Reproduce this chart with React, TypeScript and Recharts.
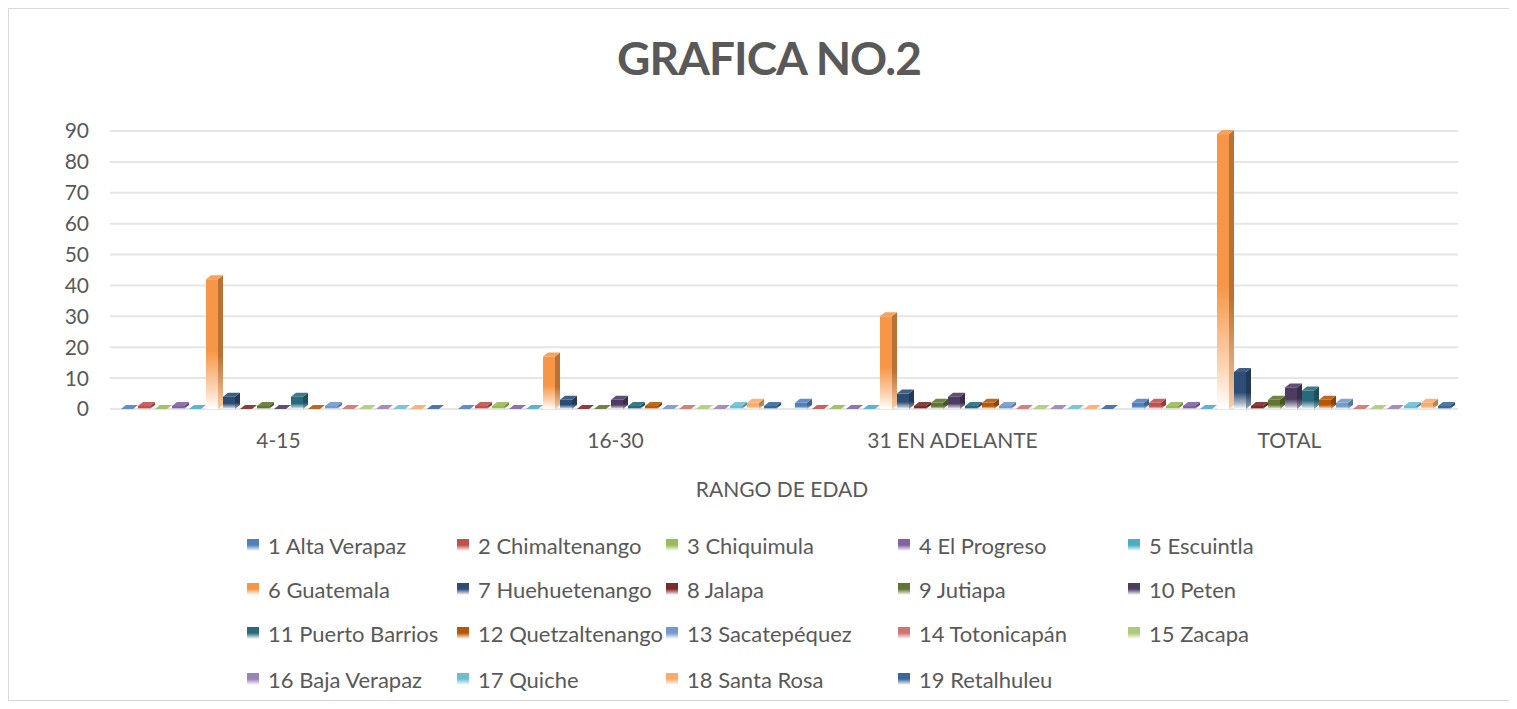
import { BarChart, Bar, XAxis, YAxis, CartesianGrid } from "recharts";

// Age ranges on the x axis
const categories = ["4-15", "16-30", "31 EN ADELANTE", "TOTAL"];
const yTicks = [0, 10, 20, 30, 40, 50, 60, 70, 80, 90];

// One array per departamento, same order as categories
const altaVerapaz = [0, 0, 2, 2];
const chimaltenango = [1, 1, 0, 2];
const chiquimula = [0, 1, 0, 1];
const elProgreso = [1, 0, 0, 1];
const escuintla = [0, 0, 0, 0];
const guatemala = [42, 17, 30, 89];
const huehuetenango = [4, 3, 5, 12];
const jalapa = [0, 0, 1, 1];
const jutiapa = [1, 0, 2, 3];
const peten = [0, 3, 4, 7];
const puertoBarrios = [4, 1, 1, 6];
const quetzaltenango = [0, 1, 2, 3];
const sacatepequez = [1, 0, 1, 2];
const totonicapan = [0, 0, 0, 0];
const zacapa = [0, 0, 0, 0];
const bajaVerapaz = [0, 0, 0, 0];
const quiche = [0, 1, 0, 1];
const santaRosa = [0, 2, 0, 2];
const retalhuleu = [0, 1, 0, 1];

const seriesNames = [
  "1 Alta Verapaz", "2 Chimaltenango", "3 Chiquimula", "4 El Progreso", "5 Escuintla",
  "6 Guatemala", "7 Huehuetenango", "8 Jalapa", "9 Jutiapa", "10 Peten",
  "11 Puerto Barrios", "12 Quetzaltenango", "13 Sacatepéquez", "14 Totonicapán", "15 Zacapa",
  "16 Baja Verapaz", "17 Quiche", "18 Santa Rosa", "19 Retalhuleu",
];
const seriesValues = [
  altaVerapaz, chimaltenango, chiquimula, elProgreso, escuintla,
  guatemala, huehuetenango, jalapa, jutiapa, peten,
  puertoBarrios, quetzaltenango, sacatepequez, totonicapan, zacapa,
  bajaVerapaz, quiche, santaRosa, retalhuleu,
];
const colors = [
  "#4F81BD", "#C0504D", "#9BBB59", "#8064A2", "#4BACC6",
  "#F79646", "#2C4D75", "#772C2A", "#5F7530", "#4D3B62",
  "#276A7C", "#B65708", "#729ACA", "#CD7371", "#AFC97A",
  "#9983B5", "#6FBDD1", "#F9AB6B", "#3A679C",
];

const data = categories.map((cat, i) => {
  const row: Record<string, string | number> = { cat };
  seriesValues.forEach((vals, k) => {
    row["s" + k] = vals[i];
  });
  return row;
});

const FONT = "Lato, 'Liberation Sans', sans-serif";
const TEXT = "#595959";

function shade(hex: string, f: number): string {
  const n = parseInt(hex.slice(1), 16);
  const ch = [(n >> 16) & 255, (n >> 8) & 255, n & 255].map((c) =>
    Math.round(f < 0 ? c * (1 + f) : c + (255 - c) * f)
  );
  return `rgb(${ch[0]},${ch[1]},${ch[2]})`;
}

const DEPTH = 5;
const RISE = 4;

function Bar3D(props: any) {
  const { x, y, width, height, k } = props;
  if (x == null || y == null) return null;
  const w = width - DEPTH;
  const h = Math.max(0, height);
  const c = colors[k];
  return (
    <g>
      {h > 0 && <rect x={x} y={y} width={w} height={h} fill={`url(#front${k})`} />}
      {h > 0 && (
        <polygon
          points={`${x + w},${y} ${x + w + DEPTH},${y - RISE} ${x + w + DEPTH},${y + h - RISE} ${x + w},${y + h}`}
          fill={`url(#side${k})`}
        />
      )}
      <polygon
        points={`${x},${y} ${x + DEPTH},${y - RISE} ${x + w + DEPTH},${y - RISE} ${x + w},${y}`}
        fill={shade(c, 0.1)}
      />
    </g>
  );
}

const legendCols = [238, 448, 657, 889, 1119];
const legendRows = [536, 580, 624, 670];

export default function App() {
  return (
    <div
      style={{
        position: "relative",
        width: 1509,
        height: 693,
        border: "1px solid #d9d9d9",
        boxSizing: "border-box",
        background: "#fff",
        fontFamily: FONT,
      }}
    >
      <div
        style={{
          position: "absolute",
          top: 21,
          left: 0,
          width: 1520,
          textAlign: "center",
          fontSize: 46,
          fontWeight: 700,
          letterSpacing: -1,
          color: TEXT,
        }}
      >
        GRAFICA NO.2
      </div>

      <BarChart
        width={1507}
        height={691}
        data={data}
        margin={{ top: 122, right: 58, bottom: 0, left: 0 }}
        barCategoryGap={11}
        barGap={0}
      >
        <defs>
          {colors.map((c, k) => (
            <linearGradient key={"f" + k} id={`front${k}`} x1="0" y1="0" x2="0" y2="1">
              <stop offset="0" stopColor={c} />
              <stop offset="0.55" stopColor={c} />
              <stop offset="0.85" stopColor={shade(c, 0.6)} />
              <stop offset="1" stopColor="#ffffff" />
            </linearGradient>
          ))}
          {colors.map((c, k) => (
            <linearGradient key={"s" + k} id={`side${k}`} x1="0" y1="0" x2="0" y2="1">
              <stop offset="0" stopColor={shade(c, -0.25)} />
              <stop offset="0.6" stopColor={shade(c, -0.25)} />
              <stop offset="1" stopColor={shade(c, 0.5)} />
            </linearGradient>
          ))}
        </defs>
        <CartesianGrid vertical={false} stroke="#e6e6e6" strokeWidth={2} />
        <XAxis
          dataKey="cat"
          axisLine={false}
          tickLine={false}
          tickSize={0}
          tickMargin={24}
          height={291}
          tick={{ fontSize: 21, fill: TEXT, fontFamily: FONT }}
        />
        <YAxis
          domain={[0, 90]}
          ticks={yTicks}
          interval={0}
          axisLine={false}
          tickLine={false}
          tickSize={0}
          tickMargin={21}
          width={101}
          tick={{ fontSize: 21, fill: TEXT, fontFamily: FONT }}
        />
        {seriesNames.map((name, k) => (
          <Bar
            key={name}
            dataKey={"s" + k}
            name={name}
            fill={colors[k]}
            isAnimationActive={false}
            shape={(p: any) => <Bar3D {...p} k={k} />}
          />
        ))}
      </BarChart>

      <div
        style={{
          position: "absolute",
          top: 467,
          left: 0,
          width: 1546,
          textAlign: "center",
          fontSize: 21,
          color: TEXT,
        }}
      >
        RANGO DE EDAD
      </div>

      {seriesNames.map((name, k) => (
        <div
          key={name}
          style={{
            position: "absolute",
            left: legendCols[k % 5],
            top: legendRows[Math.floor(k / 5)] - 14,
            height: 28,
            display: "flex",
            alignItems: "center",
            fontSize: 22,
            color: TEXT,
            whiteSpace: "nowrap",
          }}
        >
          <span
            style={{
              display: "inline-block",
              width: 12,
              height: 12,
              marginRight: 9,
              background: `linear-gradient(${colors[k]} 0%, ${colors[k]} 50%, #ffffff 100%)`,
            }}
          />
          {name}
        </div>
      ))}
    </div>
  );
}
